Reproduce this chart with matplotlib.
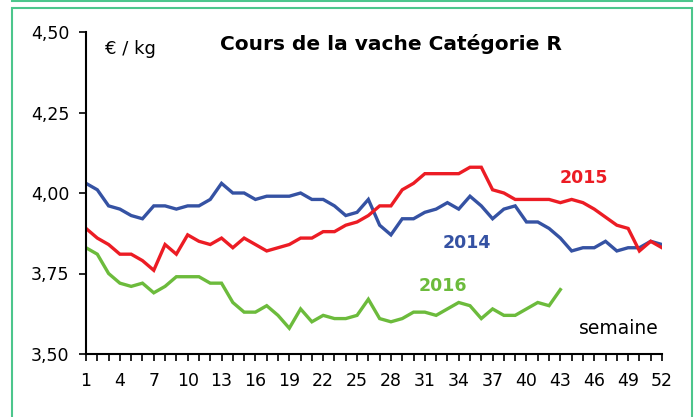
import numpy as np
import matplotlib
matplotlib.use("Agg")
import matplotlib.pyplot as plt
from matplotlib.patches import Rectangle
from matplotlib.lines import Line2D
from matplotlib.ticker import MultipleLocator, FuncFormatter

plt.rcParams['font.family'] = ['DejaVu Sans']

# prix hebdomadaires (EUR/kg)
cours_2014 = [4.03, 4.01, 3.96, 3.95, 3.93, 3.92, 3.96, 3.96, 3.95, 3.96,
              3.96, 3.98, 4.03, 4.00, 4.00, 3.98, 3.99, 3.99, 3.99, 4.00,
              3.98, 3.98, 3.96, 3.93, 3.94, 3.98, 3.90, 3.87, 3.92, 3.92,
              3.94, 3.95, 3.97, 3.95, 3.99, 3.96, 3.92, 3.95, 3.96, 3.91,
              3.91, 3.89, 3.86, 3.82, 3.83, 3.83, 3.85, 3.82, 3.83, 3.83,
              3.85, 3.84]
cours_2015 = [3.89, 3.86, 3.84, 3.81, 3.81, 3.79, 3.76, 3.84, 3.81, 3.87,
              3.85, 3.84, 3.86, 3.83, 3.86, 3.84, 3.82, 3.83, 3.84, 3.86,
              3.86, 3.88, 3.88, 3.90, 3.91, 3.93, 3.96, 3.96, 4.01, 4.03,
              4.06, 4.06, 4.06, 4.06, 4.08, 4.08, 4.01, 4.00, 3.98, 3.98,
              3.98, 3.98, 3.97, 3.98, 3.97, 3.95, 3.925, 3.90, 3.89, 3.82,
              3.85, 3.83]
cours_2016 = [3.83, 3.81, 3.75, 3.72, 3.71, 3.72, 3.69, 3.71, 3.74, 3.74,
              3.74, 3.72, 3.72, 3.66, 3.63, 3.63, 3.65, 3.62, 3.58, 3.64,
              3.60, 3.62, 3.61, 3.61, 3.62, 3.67, 3.61, 3.60, 3.61, 3.63,
              3.63, 3.62, 3.64, 3.66, 3.65, 3.61, 3.64, 3.62, 3.62, 3.64,
              3.66, 3.65, 3.70]

bleu = '#3552A3'
rouge = '#EC1C24'
vert = '#6CBB3C'
cadre = '#4CC68C'

fig = plt.figure(figsize=(6.96, 4.17), dpi=100)
ax = fig.add_axes([86/696, 1-354/417, (662-86)/696, (354-32)/417])

ax.plot(range(1, len(cours_2014)+1), cours_2014, color=bleu, lw=2.4, solid_joinstyle='miter')
ax.plot(range(1, len(cours_2015)+1), cours_2015, color=rouge, lw=2.4, solid_joinstyle='miter')
ax.plot(range(1, len(cours_2016)+1), cours_2016, color=vert, lw=2.4, solid_joinstyle='miter')

ax.set_xlim(1, 52)
ax.set_ylim(3.5, 4.5)
ax.set_xticks(range(1, 53, 3))
ax.xaxis.set_minor_locator(MultipleLocator(1))
ax.yaxis.set_major_locator(MultipleLocator(0.25))
ax.yaxis.set_major_formatter(FuncFormatter(lambda v, p: f"{v:.2f}".replace('.', ',')))
ax.tick_params(axis='x', which='both', direction='out', length=5, width=1.2,
               labelsize=12.5, pad=8, top=False)
ax.tick_params(axis='y', direction='out', length=5, width=1.2, labelsize=12.5, pad=7)
for s in ['top', 'right']:
    ax.spines[s].set_visible(False)
for s in ['left', 'bottom']:
    ax.spines[s].set_linewidth(1.5)

fig.text(130/696, 1-49/417, '€ / kg', fontsize=13, ha='center', va='center')
fig.text(391/696, 1-44/417, 'Cours de la vache Catégorie R', fontsize=14.5,
         fontweight='bold', ha='center', va='center')
fig.text(584/696, 1-178/417, '2015', color=rouge, fontsize=12.5, fontweight='bold', ha='center', va='center')
fig.text(467/696, 1-243/417, '2014', color=bleu, fontsize=12.5, fontweight='bold', ha='center', va='center')
fig.text(443/696, 1-286/417, '2016', color=vert, fontsize=12.5, fontweight='bold', ha='center', va='center')
fig.text(619/696, 1-329/417, 'semaine', fontsize=13.5, ha='center', va='center')

fig.patches.append(Rectangle((12/696, -0.05), 680/696, 1.05 - 8/417, transform=fig.transFigure,
                             fill=False, edgecolor=cadre, lw=1.5))
fig.lines.append(Line2D([12/696, 692/696], [1-0.8/417, 1-0.8/417], transform=fig.transFigure,
                        color=cadre, lw=1.5))

fig.savefig('out.png', dpi=100)
